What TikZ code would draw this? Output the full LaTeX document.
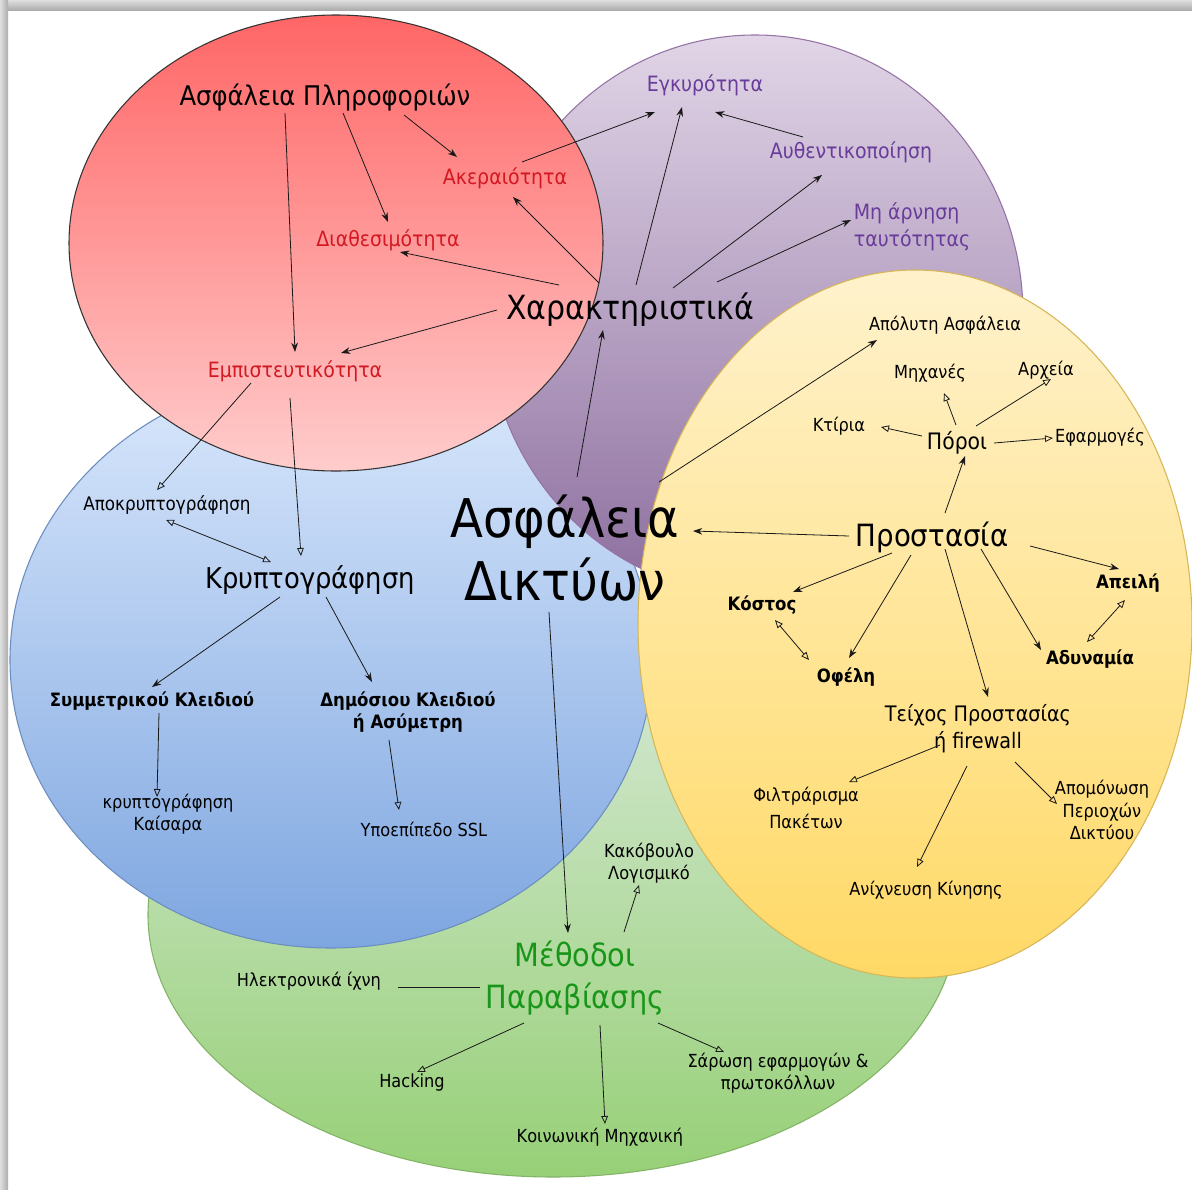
\documentclass[tikz,border=0pt]{standalone}
\usepackage{fontspec}
\setmainfont{DejaVu Sans Condensed}
\usetikzlibrary{shapes.geometric,arrows.meta,calc}

\definecolor{redhi}{HTML}{FF6666}
\definecolor{redlo}{HTML}{FFCCCC}
\definecolor{purhi}{HTML}{E1D5E7}
\definecolor{purlo}{HTML}{8C6E9E}
\definecolor{purln}{HTML}{9673A6}
\definecolor{yelhi}{HTML}{FFF2CC}
\definecolor{yello}{HTML}{FFD966}
\definecolor{yelln}{HTML}{D6B656}
\definecolor{bluhi}{HTML}{DAE8FC}
\definecolor{blulo}{HTML}{7EA6E0}
\definecolor{bluln}{HTML}{6C8EBF}
\definecolor{grnhi}{HTML}{D5E8D4}
\definecolor{grnlo}{HTML}{97D077}
\definecolor{grnln}{HTML}{82B366}
\definecolor{redtxt}{RGB}{210,25,35}
\definecolor{purtxt}{RGB}{105,60,155}
\definecolor{grntxt}{RGB}{25,150,25}

\tikzset{
  small/.style={font=\fontsize{13.5}{17}\selectfont},
  smallb/.style={font=\bfseries\fontsize{13.8}{17}\selectfont},
  mid/.style={font=\fontsize{15.8}{20}\selectfont},
  big/.style={font=\fontsize{20.3}{25}\selectfont},
  fa/.style={-{Stealth[length=7pt,width=5pt]}},
  oa/.style={-{Triangle[open,length=6pt,width=5pt]}},
  oaa/.style={{Triangle[open,length=6pt,width=5pt]}-{Triangle[open,length=6pt,width=5pt]}}
}

\begin{document}
\begin{tikzpicture}[x=0.75pt,y=-0.75pt]

  % page and its shadow
  \fill[white] (0,0) rectangle (1192,1189);
  \shade[top color=gray!25,bottom color=gray!65] (0,0) rectangle (1192,10);
  \shade[left color=gray!25,right color=gray!65] (0,0) rectangle (8,1189);
  \useasboundingbox (0,0) rectangle (1192,1189);

  \begin{scope}[every node/.style={ellipse,inner sep=0pt,line width=.8pt}]
    \node[draw=grnln,top color=grnhi,bottom color=grnlo,minimum width=607.5pt,minimum height=393pt] (grset) at (553,915) {};
    \node[draw=bluln,top color=bluhi,bottom color=blulo,minimum width=481.5pt,minimum height=432pt] (blset) at (331,660) {};
    \node[draw=purln,top color=purhi,bottom color=purlo,minimum width=402pt,minimum height=420pt] (puset) at (755,315) {};
    \node[draw=black!80,top color=redhi,bottom color=redlo,minimum width=400.5pt,minimum height=342pt] (reset) at (336,243) {};
    \node[draw=yelln,top color=yelhi,bottom color=yello,minimum width=415.5pt,minimum height=531pt] (yeset) at (915,624) {};
  \end{scope}

  \begin{scope}[every node/.style={inner sep=0pt,align=center}]
    \node[font=\fontsize{40}{47}\selectfont] (ad) at (565,548) {Ασφάλεια\\Δικτύων};
    % information security
    \node[big] (ap)    at (325,97)  {Ασφάλεια Πληροφοριών};
    \node[mid,redtxt] (aker)  at (505,178) {Ακεραιότητα};
    \node[mid,redtxt] (diath) at (388,240) {Διαθεσιμότητα};
    \node[mid,redtxt] (empi)  at (295,371) {Εμπιστευτικότητα};
    \node[font=\fontsize{25}{30}\selectfont] (xar) at (630,310) {Χαρακτηριστικά};
    \node[mid,purtxt] (egk)   at (705,85)  {Εγκυρότητα};
    \node[mid,purtxt] (auth)  at (851,152) {Αυθεντικοποίηση};
    \node[mid,purtxt,align=left] (mhar) at (912,227) {Μη άρνηση\\ταυτότητας};
    % protection
    \node[small] (apol)  at (945,325) {Απόλυτη Ασφάλεια};
    \node[small] (mhx)   at (930,373) {Μηχανές};
    \node[small] (arx)   at (1046,370) {Αρχεία};
    \node[small] (kti)   at (839,426) {Κτίρια};
    \node[font=\fontsize{17}{20}\selectfont] (poroi) at (957,443) {Πόροι};
    \node[small] (efar)  at (1100,437) {Εφαρμογές};
    \node[font=\fontsize{23}{28}\selectfont] (prost) at (932,537) {Προστασία};
    \node[smallb] (kost) at (762,605) {Κόστος};
    \node[smallb] (ofel) at (846,677) {Οφέλη};
    \node[smallb] (apei) at (1128,583) {Απειλή};
    \node[smallb] (adyn) at (1090,659) {Αδυναμία};
    \node[font=\fontsize{16}{20}\selectfont] (teix) at (978,729) {Τείχος Προστασίας\\ή firewall};
    \node[font=\fontsize{13.5}{20}\selectfont] (filt) at (806,808) {Φιλτράρισμα\\Πακέτων};
    \node[small] (apom)  at (1102,810) {Απομόνωση\\Περιοχών\\Δικτύου};
    \node[small] (anix)  at (926,890) {Ανίχνευση Κίνησης};
    % cryptography
    \node[font=\fontsize{14}{17}\selectfont] (apokr) at (167,505) {Αποκρυπτογράφηση};
    \node[font=\fontsize{21.5}{25}\selectfont] (kryp) at (310,580) {Κρυπτογράφηση};
    \node[smallb] (symm) at (152,701) {Συμμετρικού Κλειδιού};
    \node[smallb] (dhm)  at (408,712) {Δημόσιου Κλειδιού\\ή Ασύμετρη};
    \node[small] (kais)  at (168,814) {κρυπτογράφηση\\Καίσαρα};
    \node[small] (ssl)   at (424,829) {Υποεπίπεδο SSL};
    % attacks
    \node[grntxt,font=\fontsize{24}{31.5}\selectfont] (meth) at (575,978) {Μέθοδοι\\Παραβίασης};
    \node[small] (kak)   at (649,863) {Κακόβουλο\\Λογισμικό};
    \node[small] (hlek)  at (309,981) {Ηλεκτρονικά ίχνη};
    \node[small] (hack)  at (412,1083) {Hacking};
    \node[small] (sar)   at (778,1073) {Σάρωση εφαρμογών \&\\πρωτοκόλλων};
    \node[small] (koin)  at (600,1137) {Κοινωνική Μηχανική};
  \end{scope}

  \begin{scope}[every edge/.style={draw,line width=.6pt,black!90}]
    % filled heads
    \path ($(ap)+(-40,16)$)   edge[fa] ($(empi)+(0,-19)$);
    \path ($(ap)+(18,16)$)    edge[fa] ($(diath)+(0,-18)$);
    \path ($(ap)+(79,18)$)    edge[fa] ($(aker)+(-48,-21)$);
    \path ($(xar)+(-31,-27)$) edge[fa] ($(aker)+(8,19)$);
    \path ($(xar)+(-71,-25)$) edge[fa] ($(diath)+(12,12)$);
    \path ($(xar)+(-133,0)$)  edge[fa] ($(empi)+(46,-18)$);
    \path ($(aker)+(17,-16)$) edge[fa] ($(egk)+(-50,27)$);
    \path ($(xar)+(6,-25)$)   edge[fa] ($(egk)+(-23,22)$);
    \path ($(auth)+(-48,-15)$) edge[fa] ($(egk)+(10,27)$);
    \path ($(xar)+(43,-22)$)  edge[fa] ($(auth)+(-29,23)$);
    \path ($(xar)+(87,-28)$)  edge[fa] ($(mhar)+(-61,-7)$);
    \path ($(ad)+(12,-71)$)   edge[fa] ($(xar)+(-27,20)$);
    \path ($(ad)+(94,-66)$)   edge[fa] ($(apol)+(-68,15)$);
    \path ($(prost)+(-83,-1)$) edge[fa] ($(ad)+(128,-17)$);
    \path ($(ad)+(-16,64)$)   edge[fa] ($(meth)+(-7,-45)$);
    \path ($(prost)+(13,-24)$) edge[fa] ($(poroi)+(8,13)$);
    \path ($(prost)+(-40,16)$) edge[fa] ($(kost)+(31,-13)$);
    \path ($(prost)+(-21,18)$) edge[fa] ($(ofel)+(3,-19)$);
    \path ($(prost)+(13,12)$) edge[fa] ($(teix)+(10,-32)$);
    \path ($(prost)+(49,12)$) edge[fa] ($(adyn)+(-49,-9)$);
    \path ($(prost)+(98,9)$)  edge[fa] ($(apei)+(-9,-14)$);
    \path ($(kryp)+(-30,17)$) edge[fa] ($(symm)+(0,-14)$);
    \path ($(kryp)+(16,17)$)  edge[fa] ($(dhm)+(-36,-30)$);
    % open heads
    \path ($(empi)+(-44,12)$) edge[oa] ($(apokr)+(-10,-15)$);
    \path ($(empi)+(-5,27)$)  edge[oa] ($(kryp)+(-9,-24)$);
    \path ($(apokr)+(-1,15)$) edge[oaa] ($(kryp)+(-39,-18)$);
    \path ($(symm)+(7,12)$)   edge[oa] ($(kais)+(-11,-17)$);
    \path ($(dhm)+(-19,28)$)  edge[oa] ($(ssl)+(-25,-19)$);
    \path ($(poroi)+(-1,-18)$) edge[oa] ($(mhx)+(14,20)$);
    \path ($(poroi)+(19,-17)$) edge[oa] ($(arx)+(5,9)$);
    \path ($(poroi)+(-35,-7)$) edge[oa] ($(kti)+(42,1)$);
    \path ($(poroi)+(37,0)$)  edge[oa] ($(efar)+(-47,1)$);
    \path ($(kost)+(13,15)$)  edge[oaa] ($(ofel)+(-37,-17)$);
    \path ($(apei)+(-3,17)$)  edge[oaa] ($(adyn)+(-3,-17)$);
    \path ($(teix)+(-38,16)$) edge[oa] ($(filt)+(43,-26)$);
    \path ($(teix)+(-11,37)$) edge[oa] ($(anix)+(-9,-23)$);
    \path ($(teix)+(37,33)$)  edge[oa] ($(apom)+(-45,-6)$);
    \path ($(meth)+(49,-46)$) edge[oa] ($(kak)+(-10,22)$);
    \path ($(meth)+(-51,45)$) edge[oa] ($(hack)+(5,-11)$);
    \path ($(meth)+(25,47)$)  edge[oa] ($(koin)+(5,-13)$);
    \path ($(meth)+(83,45)$)  edge[oa] ($(sar)+(-54,-21)$);
    % plain
    \path ($(meth)+(-95,9)$)  edge ($(hlek)+(89,6)$);
  \end{scope}

\end{tikzpicture}
\end{document}
